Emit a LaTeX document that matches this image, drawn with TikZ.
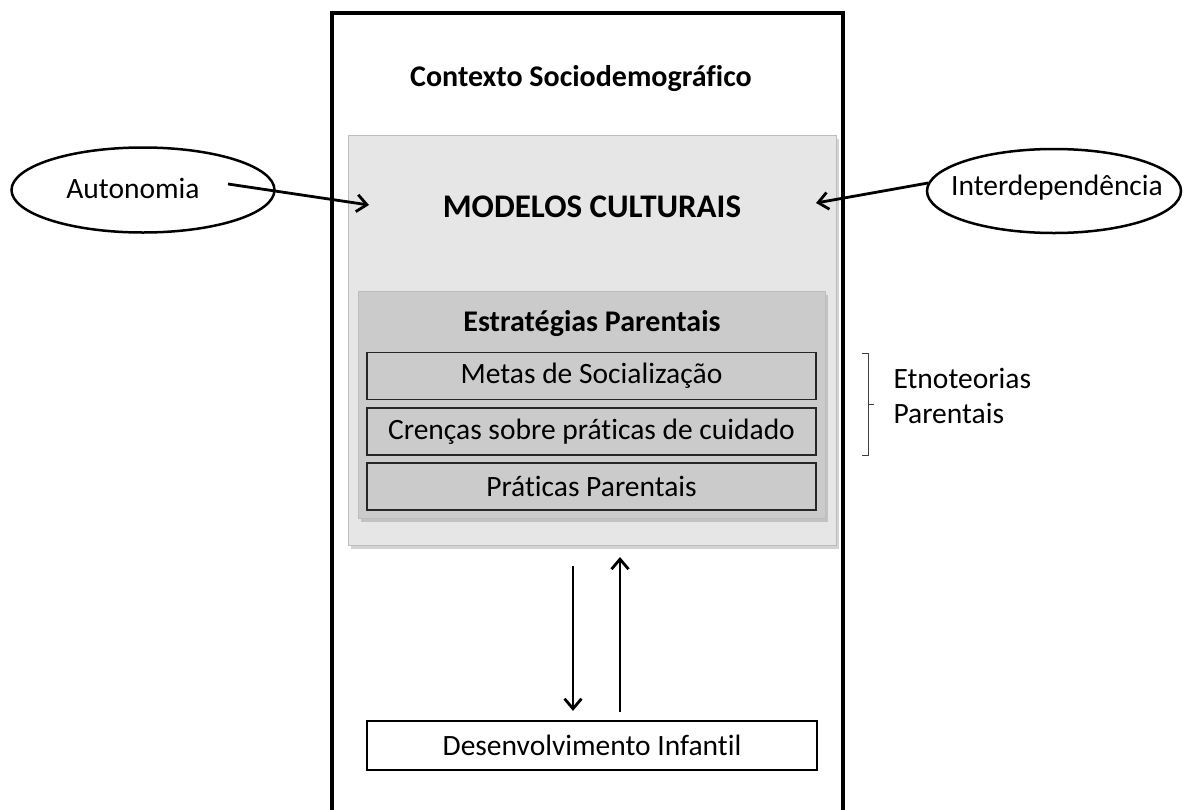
\documentclass[tikz,border=0pt]{standalone}
\usepackage{fontspec}
\setmainfont{Carlito}[Ligatures={NoCommon}]
\usetikzlibrary{arrows.meta,shadows,shapes.geometric}
\definecolor{outergray}{HTML}{E6E6E6}
\definecolor{innergray}{HTML}{CBCBCB}
\definecolor{edgegray}{HTML}{BDBDBD}
\tikzset{
  txt/.style={font=\fontsize{29.5}{34}\selectfont},
  boldtxt/.style={font=\fontsize{30}{34}\selectfont\bfseries},
  bigtxt/.style={font=\fontsize{33}{38}\selectfont\bfseries},
  subbox/.style={draw=black!85, line width=1.3pt, fill=innergray, minimum width=449pt, minimum height=47pt, inner sep=0pt, txt},
  oval/.style={ellipse, draw, line width=2.5pt, fill=white, inner ysep=0pt, inner xsep=-30pt, txt},
  arr/.style={-{Straight Barb[length=10pt,width=17pt,line width=2.8pt]}, line width=2.8pt},
  panel/.style={draw=edgegray, line width=1pt, drop shadow={shadow xshift=2pt, shadow yshift=-3pt, opacity=0.35}},
}
\begin{document}
\begin{tikzpicture}[x=1pt,y=-1pt]
\useasboundingbox (0,0) rectangle (1183,809);
\begin{scope}
\clip (0,0) rectangle (1183,809);
\draw[line width=3.5pt] (332,13) rectangle (843,830);
\end{scope}
\node[boldtxt] (ctx) at (581,79) {Contexto Sociodemográfico};
% outer gray panel
\node[panel, fill=outergray, minimum width=488pt, minimum height=410pt, inner sep=0pt, anchor=north west] (modelos) at (348,135) {};
\node[bigtxt] (mtitle) at (592,207) {MODELOS CULTURAIS};
% inner panel
\node[panel, fill=innergray, minimum width=467pt, minimum height=227pt, inner sep=0pt, anchor=north west] (estr) at (358,291) {};
\node[boldtxt] (etitle) at (592,324) {Estratégias Parentais};
\node[subbox] (metas) at (591.5,376) {Metas de Socialização};
\node[subbox] (crencas) at (591.5,431.5) {Crenças sobre práticas de cuidado};
\node[subbox] (praticas) at (591.5,486.5) {Práticas Parentais};
% bracket
\draw[line width=0.8pt, black!75] (862,353) -- (868,353) -- (868,455) -- (862,455);
\draw[line width=0.8pt, black!75] (868,404) -- (874,404);
\node[txt, anchor=west] (etno1) at (890,378) {Etnoteorias};
\node[txt, anchor=west] (etno2) at (890,413) {Parentais};
% ellipses
\node[oval, minimum width=263pt, minimum height=85pt] (auto) at (143,190) {};
\node[txt] (autotxt) at (133,188) {Autonomia};
\node[oval, minimum width=254pt, minimum height=84pt] (inter) at (1054,191) {};
\node[txt] (intertxt) at (1057,188) {Interdependência};
\coordinate (autoS) at (228,184);
\coordinate (autoE) at (369,205);
\coordinate (interS) at (928,183);
\coordinate (interE) at (816,203);
\draw[arr] (autoS) -- (autoE);
\draw[arr] (interS) -- (interE);
% development box
\node[draw, line width=2.3pt, fill=white, minimum width=450pt, minimum height=49pt, inner sep=0pt, txt] (dev) at (592,745.5) {Desenvolvimento Infantil};
\coordinate (downS) at (573,566);
\coordinate (downE) at (downS|-dev.north);
\coordinate (upS) at (620,712);
\coordinate (upE) at (620,557);
\draw[arr] (downS) -- ([yshift=9pt]downE);
\draw[arr] (upS) -- (upE);
\end{tikzpicture}
\end{document}
